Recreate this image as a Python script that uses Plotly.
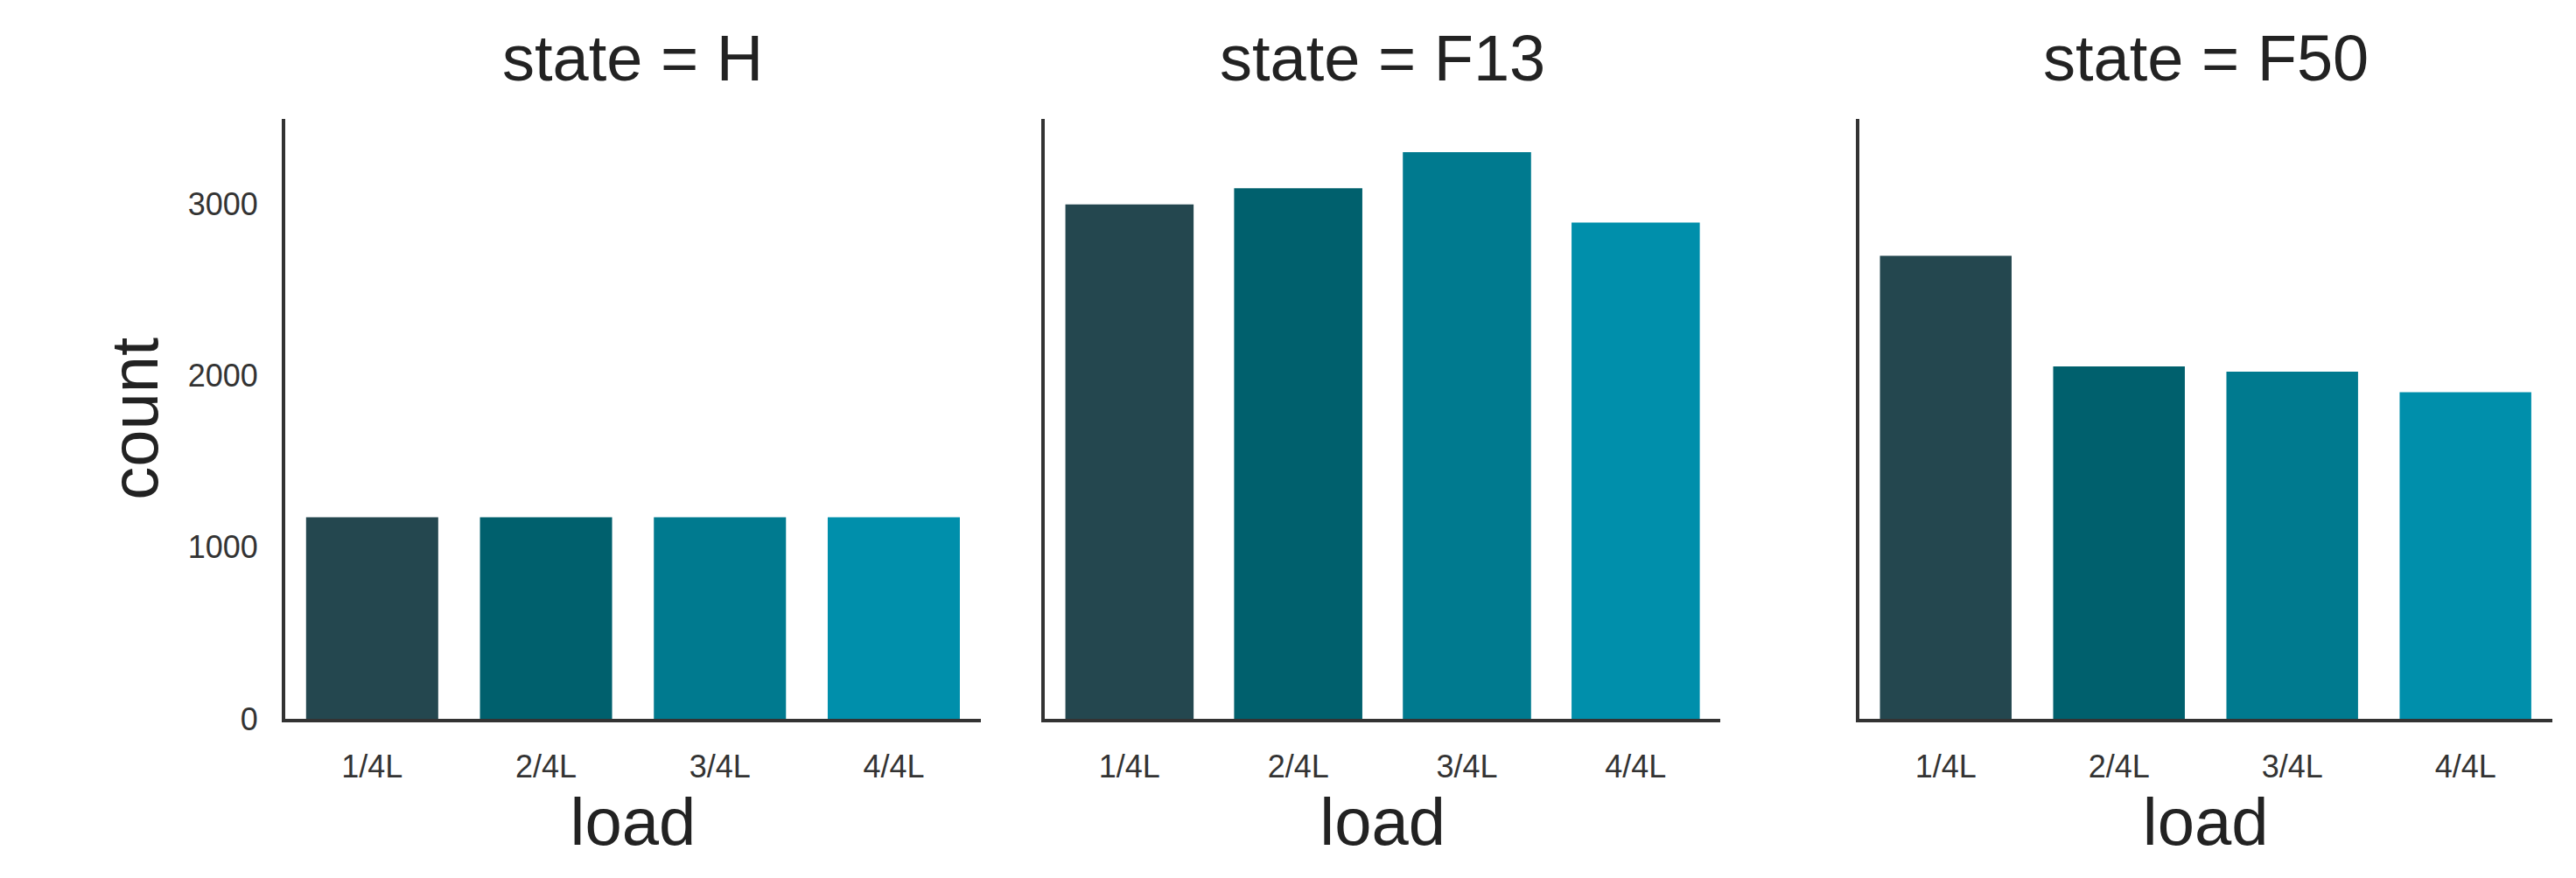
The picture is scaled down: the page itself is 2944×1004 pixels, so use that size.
import plotly.graph_objects as go

loads = ["1/4L", "2/4L", "3/4L", "4/4L"]
states = ["H", "F13", "F50"]
counts_H = [1175, 1175, 1175, 1175]
counts_F13 = [3000, 3095, 3305, 2895]
counts_F50 = [2700, 2055, 2025, 1905]
colors = ["#24474F", "#00606D", "#007A8F", "#008FAB"]
y_ticks = [0, 1000, 2000, 3000]

series = [counts_H, counts_F13, counts_F50]
xdomains = [(0.108, 0.378), (0.403, 0.665), (0.719, 0.988)]
ydom = (0.172, 0.870)
font = "Liberation Sans, Arial, sans-serif"

fig = go.Figure()
for i, (st, vals, xd) in enumerate(zip(states, series, xdomains)):
    sfx = "" if i == 0 else str(i + 1)
    fig.add_trace(go.Bar(x=loads, y=vals, marker=dict(color=colors, line=dict(width=0)),
                         xaxis="x" + sfx, yaxis="y" + sfx, showlegend=False))
    ax = dict(domain=list(xd), anchor="y" + sfx, range=[-0.5, 3.5], showline=True,
              linecolor="#333333", linewidth=4, ticks="", showgrid=False, zeroline=False,
              tickfont=dict(size=36, color="#333333", family=font), ticklabelstandoff=20,
              title=dict(text="load", font=dict(size=76, color="#222222", family=font), standoff=5))
    ay = dict(domain=list(ydom), anchor="x" + sfx, range=[0, 3500], showline=True,
              linecolor="#333333", linewidth=4, ticks="", showgrid=False, zeroline=False,
              tickvals=y_ticks, showticklabels=(i == 0),
              tickfont=dict(size=36, color="#333333", family=font), ticklabelstandoff=20)
    if i == 0:
        ay["title"] = dict(text="count", font=dict(size=76, color="#222222", family=font), standoff=10)
    fig.update_layout(**{"xaxis" + sfx: ax, "yaxis" + sfx: ay})
    fig.add_annotation(text=f"state = {st}", xref="paper", yref="paper",
                       x=(xd[0] + xd[1]) / 2, y=0.985, xanchor="center", yanchor="top",
                       showarrow=False, font=dict(size=74, color="#222222", family=font))

fig.update_layout(width=2944, height=1004, margin=dict(l=0, r=0, t=0, b=0),
                  plot_bgcolor="white", paper_bgcolor="white", bargap=0.24)
fig.write_html("out.html")
